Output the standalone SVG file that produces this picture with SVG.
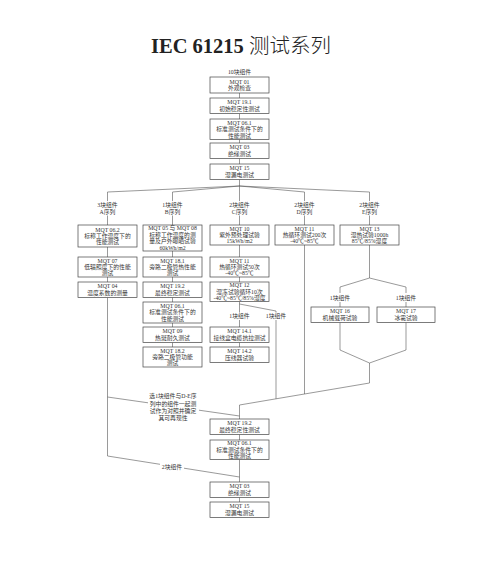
<svg xmlns="http://www.w3.org/2000/svg" width="500" height="562" viewBox="0 0 500 562">
<style>
.bg{fill:#fff}
.b{fill:#fff;stroke:#444;stroke-width:0.7}
.t{font-family:"Liberation Serif","Noto Sans CJK SC",serif;font-size:5.8px;fill:#333;text-anchor:middle}
.c{fill:none;stroke:#555;stroke-width:0.6}
.title{font-family:"Liberation Serif","Noto Sans CJK SC",serif;font-size:20.5px;fill:#222;text-anchor:middle}
</style>
<rect class="bg" x="0" y="0" width="500" height="562"/>
<text class="title" x="241" y="53"><tspan font-weight="bold">IEC 61215 </tspan><tspan font-family="Noto Sans CJK SC, sans-serif" font-weight="300">测试系列</tspan></text>

<g id="connectors">
<path class="c" d="M239.5 93V98M239.5 113.5V119M239.5 139.5V143M239.5 158.5V164M239.5 179.5V186"/>
<path class="c" d="M239.5 186L107.5 192V201M239.5 186L172.5 192V201M239.5 186V201M239.5 186L304.5 192V201M239.5 186L369.5 192V201"/>
<path class="c" d="M107.5 215.5V225M172.5 215.5V225M239.5 215.5V225M304.5 215.5V225M369.5 215.5V225"/>
<path class="c" d="M107.5 247V257M107.5 277V282M107.5 297.5V456"/>
<path class="c" d="M172.5 251V257M172.5 277V282M172.5 297.5V302M172.5 323V327M172.5 342.5V347"/>
<path class="c" d="M239.5 245V257M239.5 277V282M239.5 301.5V312.5M239.5 320V327M239.5 342.5V347"/>
<path class="c" d="M239.5 304L276 311V312.5M276 320V398.8"/>
<path class="c" d="M304.5 245V394"/>
<path class="c" d="M369.5 245V278M369.5 278L340 287V293M369.5 278L406 287V293M340 302V307M406 302V307"/>
<path class="c" d="M340 322.5V350L369.5 363M406 322.5V350L369.5 363M369.5 363V383L239.5 405V419"/>
<path class="c" d="M107.5 397L148 402.8M199 410.2L239.5 416"/>
<path class="c" d="M107.5 456L160 464.3M184 468.2L239.5 477"/>
<path class="c" d="M239.5 434.5V440M239.5 459.5V482M239.5 497.5V502"/>
</g>

<g id="labels">
<text class="t" x="239.5" y="74">10块组件</text>
<text class="t" x="107.5" y="207">3块组件</text><text class="t" x="107.5" y="213.5">A序列</text>
<text class="t" x="172.5" y="207">1块组件</text><text class="t" x="172.5" y="213.5">B序列</text>
<text class="t" x="239.5" y="207">2块组件</text><text class="t" x="239.5" y="213.5">C序列</text>
<text class="t" x="304.5" y="207">2块组件</text><text class="t" x="304.5" y="213.5">D序列</text>
<text class="t" x="369.5" y="207">2块组件</text><text class="t" x="369.5" y="213.5">E序列</text>
<text class="t" x="239.5" y="318">1块组件</text>
<text class="t" x="276" y="318">1块组件</text>
<text class="t" x="340" y="300">1块组件</text>
<text class="t" x="406" y="300">1块组件</text>
<text class="t" x="173" y="398">选1块组件与D-E序</text>
<text class="t" x="173" y="405.5">列中的组件一起测</text>
<text class="t" x="173" y="413">试作为对照并确定</text>
<text class="t" x="173" y="419.5">其可再现性</text>
<text class="t" x="172" y="469">2块组件</text>
</g>

<g id="n1"><rect class="b" x="210" y="77" width="59" height="16"/><text class="t" x="239.5" y="83.6">MQT 01</text><text class="t" x="239.5" y="90">外观检查</text></g>
<g id="n2"><rect class="b" x="210" y="98" width="59" height="15.5"/><text class="t" x="239.5" y="104.4">MQT 19.1</text><text class="t" x="239.5" y="110.8">初始稳定性测试</text></g>
<g id="n3"><rect class="b" x="210" y="119" width="59" height="20.5"/><text class="t" x="239.5" y="124.8">MQT 06.1</text><text class="t" x="239.5" y="131.2">标准测试条件下的</text><text class="t" x="239.5" y="137.6">性能测试</text></g>
<g id="n4"><rect class="b" x="210" y="143" width="59" height="15.5"/><text class="t" x="239.5" y="149.4">MQT 03</text><text class="t" x="239.5" y="155.8">绝缘测试</text></g>
<g id="n5"><rect class="b" x="210" y="164" width="59" height="15.5"/><text class="t" x="239.5" y="170.4">MQT 15</text><text class="t" x="239.5" y="176.8">湿漏电测试</text></g>

<g id="a1"><rect class="b" x="78" y="225" width="59" height="22"/><text class="t" x="107.5" y="231.6">MQT 06.2</text><text class="t" x="107.5" y="238">标称工作温度下的</text><text class="t" x="107.5" y="244.4">性能测试</text></g>
<g id="a2"><rect class="b" x="78" y="257" width="59" height="20"/><text class="t" x="107.5" y="262.6">MQT 07</text><text class="t" x="107.5" y="269">低辐照度下的性能</text><text class="t" x="107.5" y="275.4">测试</text></g>
<g id="a3"><rect class="b" x="78" y="282" width="59" height="15.5"/><text class="t" x="107.5" y="288.4">MQT 04</text><text class="t" x="107.5" y="294.8">温度系数的测量</text></g>

<g id="b1"><rect class="b" x="143" y="225" width="59" height="26"/><text class="t" x="172.5" y="230.4">MQT 05 与 MQT 08</text><text class="t" x="172.5" y="236.8">标称工作温度的测</text><text class="t" x="172.5" y="243.2">量及户外曝晒试验</text><text class="t" x="172.5" y="249.6">60kWh/m2</text></g>
<g id="b2"><rect class="b" x="143" y="257" width="59" height="20"/><text class="t" x="172.5" y="262.6">MQT 18.1</text><text class="t" x="172.5" y="269">旁路二极管热性能</text><text class="t" x="172.5" y="275.4">测试</text></g>
<g id="b3"><rect class="b" x="143" y="282" width="59" height="15.5"/><text class="t" x="172.5" y="288.4">MQT 19.2</text><text class="t" x="172.5" y="294.8">最终稳定测试</text></g>
<g id="b4"><rect class="b" x="143" y="302" width="59" height="21"/><text class="t" x="172.5" y="308">MQT 06.1</text><text class="t" x="172.5" y="314.4">标准测试条件下的</text><text class="t" x="172.5" y="320.8">性能测试</text></g>
<g id="b5"><rect class="b" x="143" y="327" width="59" height="15.5"/><text class="t" x="172.5" y="333.4">MQT 09</text><text class="t" x="172.5" y="339.8">热斑耐久测试</text></g>
<g id="b6"><rect class="b" x="143" y="347" width="59" height="20"/><text class="t" x="172.5" y="352.6">MQT 18.2</text><text class="t" x="172.5" y="359">旁路二极管功能</text><text class="t" x="172.5" y="365.4">测试</text></g>

<g id="c1"><rect class="b" x="210" y="225" width="59" height="20"/><text class="t" x="239.5" y="230.6">MQT 10</text><text class="t" x="239.5" y="237">紫外预处理试验</text><text class="t" x="239.5" y="243.4">15kWh/m2</text></g>
<g id="c2"><rect class="b" x="210" y="257" width="59" height="20"/><text class="t" x="239.5" y="262.6">MQT 11</text><text class="t" x="239.5" y="269">热循环测试50次</text><text class="t" x="239.5" y="275.4">-40℃~85℃</text></g>
<g id="c3"><rect class="b" x="210" y="282" width="59" height="19.5"/><text class="t" x="239.5" y="287.4">MQT 12</text><text class="t" x="239.5" y="293.8">湿冻试验循环10次</text><text class="t" x="239.5" y="300.2">-40℃~85℃/85%湿度</text></g>
<g id="c4"><rect class="b" x="210" y="327" width="59" height="15.5"/><text class="t" x="239.5" y="333.4">MQT 14.1</text><text class="t" x="239.5" y="339.8">接线盒电缆抗拉测试</text></g>
<g id="c5"><rect class="b" x="210" y="347" width="59" height="15.5"/><text class="t" x="239.5" y="353.4">MQT 14.2</text><text class="t" x="239.5" y="359.8">压线器试验</text></g>

<g id="d1"><rect class="b" x="275" y="225" width="59" height="20"/><text class="t" x="304.5" y="230.6">MQT 11</text><text class="t" x="304.5" y="237">热循环测试200次</text><text class="t" x="304.5" y="243.4">-40℃~85℃</text></g>

<g id="e1"><rect class="b" x="340" y="225" width="59" height="20"/><text class="t" x="369.5" y="230.6">MQT 13</text><text class="t" x="369.5" y="237">湿热试验1000h</text><text class="t" x="369.5" y="243.4">85℃/85%湿度</text></g>
<g id="e2"><rect class="b" x="311" y="307" width="58" height="15.5"/><text class="t" x="340" y="313.4">MQT 16</text><text class="t" x="340" y="319.8">机械载荷试验</text></g>
<g id="e3"><rect class="b" x="377" y="307" width="58" height="15.5"/><text class="t" x="406" y="313.4">MQT 17</text><text class="t" x="406" y="319.8">冰雹试验</text></g>

<g id="f1"><rect class="b" x="210" y="419" width="59" height="15.5"/><text class="t" x="239.5" y="425.4">MQT 19.2</text><text class="t" x="239.5" y="431.8">最终稳定性测试</text></g>
<g id="f2"><rect class="b" x="210" y="440" width="59" height="19.5"/><text class="t" x="239.5" y="445.4">MQT 06.1</text><text class="t" x="239.5" y="451.8">标准测试条件下的</text><text class="t" x="239.5" y="458.2">性能测试</text></g>
<g id="f3"><rect class="b" x="210" y="482" width="59" height="15.5"/><text class="t" x="239.5" y="488.4">MQT 03</text><text class="t" x="239.5" y="494.8">绝缘测试</text></g>
<g id="f4"><rect class="b" x="210" y="502" width="59" height="15.5"/><text class="t" x="239.5" y="508.4">MQT 15</text><text class="t" x="239.5" y="514.8">湿漏电测试</text></g>
</svg>
